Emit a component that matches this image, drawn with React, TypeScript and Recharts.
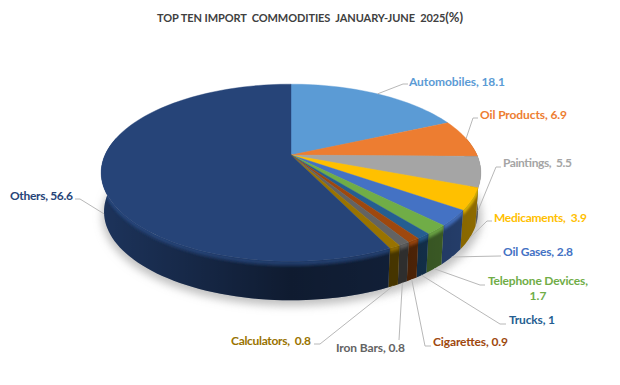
import { Pie, PieChart } from "recharts";

const commodities = ["Automobiles", "Oil Products", "Paintings", "Medicaments", "Oil Gases", "Telephone Devices", "Trucks", "Cigarettes", "Iron Bars", "Calculators", "Others"];
const shares = [18.1, 6.9, 5.5, 3.9, 2.8, 1.7, 1, 0.9, 0.8, 0.8, 56.6];
const labelLines = [
  ["Automobiles, 18.1"],
  ["Oil Products, 6.9"],
  ["Paintings,  5.5"],
  ["Medicaments,  3.9"],
  ["Oil Gases, 2.8"],
  ["Telephone Devices,", "1.7"],
  ["Trucks, 1"],
  ["Cigarettes, 0.9"],
  ["Iron Bars, 0.8"],
  ["Calculators,  0.8"],
  ["Others, 56.6"]
];
const sliceColors = ["#5B9BD5", "#ED7D31", "#A5A5A5", "#FFC000", "#4472C4", "#70AD47", "#255E91", "#9E480E", "#636363", "#997300", "#264478"];

// label placement: text x, text baseline y, text width, elbow x, elbow y, end of leader x
const labelSpots = [
  [409, 86, 96, 403, 84, 408],
  [480, 119, 87, 473, 118, 478],
  [503, 167, 69, 496, 167, 501],
  [494, 222, 93, 487, 221, 492],
  [503, 256, 70, 500, 256, 501],
  [488, 285, 100, 480, 285, 485],
  [509, 324, 46, 500, 324, 506],
  [433, 346, 75, 425, 346, 431],
  [336, 352, 69, 399, 340, 399],
  [231, 345, 80, 320, 344, 314],
  [10, 200, 63, 80, 199, 75]
];

const chartData = commodities.map((name, i) => ({ name, value: shares[i], fill: sliceColors[i], index: i }));

const CX = 291;
const CY = 155;
const RADIUS = 186;
const SQUASH = 85;
const PERSPECTIVE = 5;
const DEPTH = 39;
const BOTTOM_SCALE = 0.985;

function topPoint(deg: number, drop = 0) {
  const a = (deg * Math.PI) / 180;
  const s = PERSPECTIVE / (PERSPECTIVE + Math.sin(a));
  return [CX + RADIUS * Math.cos(a) * s, CY + drop - SQUASH * Math.sin(a) * s];
}

function bottomPoint(deg: number) {
  const a = (deg * Math.PI) / 180;
  const s = PERSPECTIVE / (PERSPECTIVE + Math.sin(a));
  return [CX + RADIUS * BOTTOM_SCALE * Math.cos(a) * s, CY + DEPTH - SQUASH * Math.sin(a) * s];
}

function arcPoints(from: number, to: number, fn: (deg: number) => number[]) {
  const count = Math.max(2, Math.ceil(Math.abs(from - to) / 2));
  const points: number[][] = [];
  for (let i = 0; i <= count; i++) points.push(fn(from + ((to - from) * i) / count));
  return points;
}

function toPath(points: number[][], close = true) {
  return points.map((p, i) => `${i ? "L" : "M"}${p[0].toFixed(2)},${p[1].toFixed(2)}`).join(" ") + (close ? " Z" : "");
}

function darken(hex: string, f: number) {
  const n = parseInt(hex.slice(1), 16);
  const r = Math.min(255, Math.round(((n >> 16) & 255) * f));
  const g = Math.min(255, Math.round(((n >> 8) & 255) * f));
  const b = Math.min(255, Math.round((n & 255) * f));
  return `rgb(${r},${g},${b})`;
}

function ShadowSlice(props: any) {
  const { startAngle, endAngle } = props;
  const shifted = (deg: number) => {
    const [x, y] = bottomPoint(deg);
    return [x + (x - CX) * 0.012 + 1, y + 5];
  };
  const points = [[CX + 1, CY + DEPTH + 5], ...arcPoints(startAngle, endAngle, shifted)];
  return <path d={toPath(points)} fill="#a0a0a0" fillOpacity={0.65} stroke="#a0a0a0" strokeOpacity={0.65} filter="url(#softShadow)" />;
}

function WallSlice(props: any) {
  const { startAngle, endAngle, fill } = props;
  const from = Math.min(startAngle, 12);
  const to = Math.max(endAngle, -192);
  if (from <= to) return <g />;
  const topArc = arcPoints(from, to, topPoint);
  const wall = toPath([...topArc, ...arcPoints(to, from, bottomPoint)]);
  const band = toPath([...topArc, ...arcPoints(to, from, (d) => topPoint(d, 5))]);
  const clipId = `wall-${Math.round(startAngle * 10)}`;
  return (
    <g>
      <clipPath id={clipId}>
        <path d={wall} />
      </clipPath>
      <path d={wall} fill={darken(fill, 0.8)} />
      <path d={wall} fill="url(#wallShade)" />
      <g clipPath={`url(#${clipId})`}>
        <path d={band} fill={fill} fillOpacity={0.6} filter="url(#softEdge)" />
        <path d={toPath(arcPoints(from, to, (d) => topPoint(d, 1)), false)} fill="none" stroke={darken(fill, 1.35)} strokeWidth={1.2} strokeOpacity={0.7} filter="url(#softEdge)" />
      </g>
    </g>
  );
}

function TopSlice(props: any) {
  const { startAngle, endAngle, fill } = props;
  const points = [[CX, CY], ...arcPoints(startAngle, endAngle, topPoint)];
  return <path d={toPath(points)} fill={fill} stroke={fill} strokeWidth={0.4} />;
}

function SliceLabel(props: any) {
  const { midAngle, index } = props;
  const [textX, textY, textWidth, elbowX, elbowY, endX] = labelSpots[index];
  const a = (midAngle * Math.PI) / 180;
  const start = Math.sin(a) > 0 ? topPoint(midAngle) : bottomPoint(midAngle);
  const color = sliceColors[index];
  const lines = labelLines[index];
  return (
    <g>
      <polyline points={`${start[0]},${start[1]} ${elbowX},${elbowY} ${endX},${elbowY}`} fill="none" stroke="#b8b8b8" strokeWidth={1} />
      {lines.map((line, i) => (
        <text
          key={line}
          x={i === 0 ? textX : 538}
          y={textY + i * 15}
          textAnchor={i === 0 ? "start" : "middle"}
          textLength={i === 0 ? textWidth : undefined}
          fill={color}
          fontFamily="Lato"
          fontWeight={700}
          fontSize={12}
          style={{ whiteSpace: "pre" }}
        >
          {line}
        </text>
      ))}
    </g>
  );
}

export default function App() {
  return (
    <div style={{ position: "absolute", left: 0, top: 0, width: 620, height: 385, background: "#fff" }}>
      <PieChart width={620} height={385} margin={{ top: 0, right: 0, bottom: 0, left: 0 }}>
        <defs>
          <linearGradient id="wallShade" gradientUnits="userSpaceOnUse" x1={101} y1={0} x2={481} y2={0}>
            <stop offset="0" stopColor="#000" stopOpacity={0.05} />
            <stop offset="0.5" stopColor="#000" stopOpacity={0.5} />
            <stop offset="0.8" stopColor="#000" stopOpacity={0.42} />
            <stop offset="1" stopColor="#000" stopOpacity={0.3} />
          </linearGradient>
          <filter id="softShadow" x="-20%" y="-20%" width="140%" height="140%">
            <feGaussianBlur stdDeviation={4} />
          </filter>
          <filter id="softEdge" x="-20%" y="-50%" width="140%" height="200%">
            <feGaussianBlur stdDeviation={1} />
          </filter>
        </defs>
        <text x={157} y={22} textLength={306} fill="#404040" fontFamily="Lato" fontWeight={700} fontSize={11} style={{ whiteSpace: "pre" }}>
          TOP TEN IMPORT  COMMODITIES  JANUARY-JUNE  2025<tspan fontSize={13}>(%)</tspan>
        </text>
        <Pie data={chartData} dataKey="value" nameKey="name" cx={CX} cy={CY} outerRadius={RADIUS} startAngle={90} endAngle={-270} paddingAngle={0} isAnimationActive={false} shape={ShadowSlice} inactiveShape={ShadowSlice} />
        <Pie data={chartData} dataKey="value" nameKey="name" cx={CX} cy={CY} outerRadius={RADIUS} startAngle={90} endAngle={-270} paddingAngle={0} isAnimationActive={false} shape={WallSlice} inactiveShape={WallSlice} />
        <Pie data={chartData} dataKey="value" nameKey="name" cx={CX} cy={CY} outerRadius={RADIUS} startAngle={90} endAngle={-270} paddingAngle={0} isAnimationActive={false} shape={TopSlice} inactiveShape={TopSlice} label={SliceLabel} labelLine={false} />
      </PieChart>
    </div>
  );
}
